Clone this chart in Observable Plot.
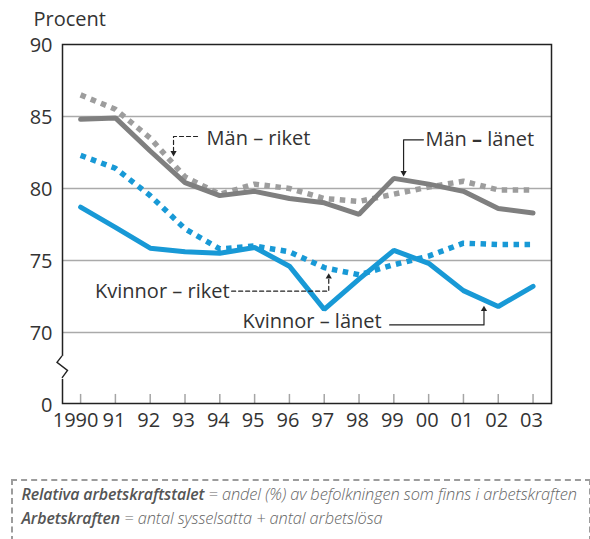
<!DOCTYPE html>
<html>
<head>
<meta charset="utf-8">
<script src="https://cdn.jsdelivr.net/npm/d3@7"></script>
<script src="https://cdn.jsdelivr.net/npm/@observablehq/plot@0.6"></script>
<style>
  html, body { margin: 0; padding: 0; background: #fff; }
  body { width: 590px; height: 539px; overflow: hidden; font-family: "Open Sans", sans-serif; }
  #chart svg { display: block; }
  .note {
    margin: 39px 0 0 11px;
    width: 559px;
    border: 2px dashed #9c9c9c;
    padding: 1px 8px 10px 8.5px;
    font-size: 16.4px;
    line-height: 24px;
    font-style: italic;
    color: #666;
    font-weight: 300;
    white-space: nowrap;
    letter-spacing: -0.1px;
  }
  .note b { font-weight: 600; color: #555; font-size: 15.9px; }
</style>
</head>
<body>
<div id="chart"></div>
<div class="note">
  <div><b>Relativa arbetskraftstalet</b> = andel (%) av befolkningen som finns i arbetskraften</div>
  <div><b>Arbetskraften</b> = antal sysselsatta + antal arbetslösa</div>
</div>
<script>
// ---- data ----
const years = [1990, 1991, 1992, 1993, 1994, 1995, 1996, 1997, 1998, 1999, 2000, 2001, 2002, 2003];
const xTickLabels = ["1990", "91", "92", "93", "94", "95", "96", "97", "98", "99", "00", "01", "02", "03"];
const yTicks = [65, 70, 75, 80, 85, 90];
const yTickLabels = ["0", "70", "75", "80", "85", "90"];
const gridValues = [70, 75, 80, 85];

const manLanet  = [84.8, 84.9, 82.6, 80.4, 79.5, 79.8, 79.3, 79.0, 78.2, 80.7, 80.3, 79.8, 78.6, 78.3];
const manRiket  = [86.5, 85.5, 83.5, 80.8, 79.6, 80.3, 80.0, 79.3, 79.1, 79.6, 80.1, 80.5, 79.9, 79.9];
const kvLanet   = [78.7, 77.3, 75.85, 75.6, 75.5, 75.9, 74.6, 71.6, 73.7, 75.7, 74.8, 72.9, 71.8, 73.2];
const kvRiket   = [82.3, 81.4, 79.5, 77.2, 75.8, 76.0, 75.6, 74.5, 74.0, 74.7, 75.3, 76.2, 76.1, 76.1];

const seriesLabels = ["Män – riket", "Män – länet", "Kvinnor – riket", "Kvinnor – länet"];
const yLabel = "Procent";

// ---- build tables ----
const toRows = (vals) => years.map((yr, i) => ({year: yr, value: vals[i]}));

const GRAY = "#7f7f7f", GRAY_DOT = "#9d9d9d", BLUE = "#1899d6", INK = "#333";
const FS = 20;
const yMin = 65.06;

const axisBreak = (index, scales, values, dims) => {
  const g = d3.create("svg:g");
  const x0 = dims.marginLeft;
  const y70 = scales.y(70);
  g.append("line").attr("x1", x0).attr("x2", x0)
    .attr("y1", y70 + 24).attr("y2", y70 + 47)
    .attr("stroke", "#fff").attr("stroke-width", 4);
  g.append("path")
    .attr("d", `M${x0},${y70 + 24}L${x0 - 5},${y70 + 30.5}L${x0 + 5.5},${y70 + 38.5}L${x0},${y70 + 46}`)
    .attr("fill", "none").attr("stroke", "#222").attr("stroke-width", 1.4);
  return g.node();
};

const leader = (pts, dashed) => Plot.line(pts, {
  x: d => d[0], y: d => d[1], stroke: "#222", strokeWidth: 1.2,
  strokeDasharray: dashed ? "4,3" : null, curve: "linear"
});

const xLabel = (d) => xTickLabels[years.indexOf(d)];

const chart = Plot.plot({
  width: 590,
  height: 440,
  marginTop: 44,
  marginBottom: 37,
  marginLeft: 62,
  marginRight: 39,
  style: {fontFamily: "'Open Sans', sans-serif", fontSize: FS + "px", color: INK, background: "#fff"},
  x: {domain: [1989.48, 2003.53]},
  y: {domain: [yMin, 90]},
  marks: [
    Plot.ruleY(gridValues, {stroke: "#aaaaaa", strokeWidth: 1.5}),
    Plot.axisX(years.slice(0, 1), {tickSize: 0, tickPadding: 9, tickFormat: xLabel, label: null, fontSize: FS, fill: INK, dx: -5}),
    Plot.axisX(years.slice(1), {tickSize: 0, tickPadding: 9, tickFormat: xLabel, label: null, fontSize: FS, fill: INK, dx: -1.5}),
    Plot.axisY(yTicks, {tickSize: 0, tickPadding: 10, tickFormat: d => yTickLabels[yTicks.indexOf(d)], label: null, fontSize: FS, fill: INK, dy: 1}),
    Plot.ruleX(years, {y1: yMin, y2: yMin + 0.63, stroke: "#a5a5a5", strokeWidth: 1.5}),
    Plot.line(toRows(manRiket), {x: "year", y: "value", stroke: GRAY_DOT, strokeWidth: 5.5, strokeDasharray: "5.5,5.5", strokeLinecap: "butt"}),
    Plot.line(toRows(kvRiket), {x: "year", y: "value", stroke: BLUE, strokeWidth: 5.5, strokeDasharray: "5.5,5.5", strokeLinecap: "butt"}),
    Plot.line(toRows(manLanet), {x: "year", y: "value", stroke: GRAY, strokeWidth: 5, strokeLinejoin: "miter"}),
    Plot.line(toRows(kvLanet), {x: "year", y: "value", stroke: BLUE, strokeWidth: 5, strokeLinejoin: "miter"}),
    Plot.frame({stroke: "#222", strokeWidth: 1.5}),
    axisBreak,
    // leaders
    leader([[1993.36, 83.61], [1992.67, 83.61], [1992.67, 82.6]], true),
    leader([[1999.85, 83.38], [1999.28, 83.38], [1999.28, 81.2]], false),
    leader([[1994.34, 72.86], [1997.13, 72.86], [1997.13, 73.75]], true),
    leader([[1998.88, 70.52], [2001.59, 70.52], [2001.59, 71.5]], false),
    Plot.dot([[1992.67, 82.47, 180], [1999.28, 81.08, 180], [1997.13, 73.86, 0], [2001.59, 71.61, 0]],
      {x: d => d[0], y: d => d[1], rotate: d => d[2], symbol: "triangle", r: 2.3, fill: "#222", stroke: null}),
    // labels
    Plot.text([seriesLabels[0]], {x: 1993.62, y: 83.48, textAnchor: "start", lineAnchor: "middle", fill: INK, fontSize: FS}),
    Plot.text([seriesLabels[1]], {x: 1999.91, y: 83.36, textAnchor: "start", lineAnchor: "middle", fill: INK, fontSize: FS}),
    Plot.text([seriesLabels[2]], {x: 1994.28, y: 72.86, textAnchor: "end", lineAnchor: "middle", fill: INK, fontSize: FS}),
    Plot.text([seriesLabels[3]], {x: 1998.65, y: 70.78, textAnchor: "end", lineAnchor: "middle", fill: INK, fontSize: FS}),
    Plot.text([yLabel], {frameAnchor: "top-left", dx: -29, dy: -25.4, textAnchor: "start", lineAnchor: "middle", fill: INK, fontSize: FS})
  ]
});
// make the dash in "Män – länet" bold, as in the original
d3.select(chart).selectAll("text").filter(function() { return this.textContent === seriesLabels[1]; })
  .each(function() {
    const parts = seriesLabels[1].split("–");
    const t = d3.select(this).text(null);
    t.append("tspan").text(parts[0]);
    t.append("tspan").attr("font-weight", 700).text("–");
    t.append("tspan").text(parts[1]);
  });
document.getElementById("chart").appendChild(chart);
</script>
</body>
</html>
